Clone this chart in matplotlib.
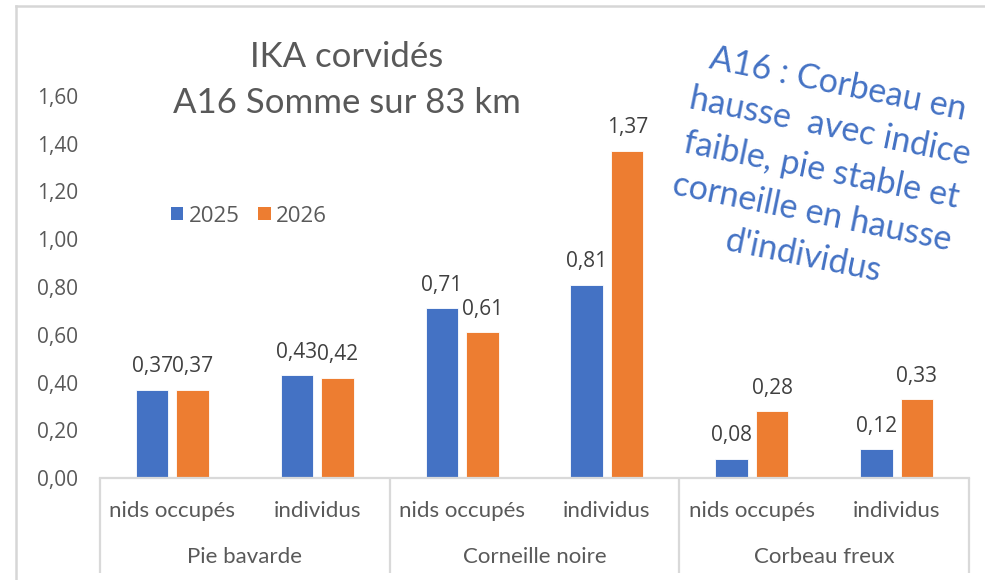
import matplotlib
matplotlib.use("Agg")
import matplotlib.pyplot as plt
import matplotlib.transforms as mtransforms
from matplotlib.lines import Line2D
from matplotlib.patches import Patch

# ---- data ----
groups = ["Pie bavarde", "Corneille noire", "Corbeau freux"]
subcats = ["nids occupés", "individus"]
series_names = ["2025", "2026"]
values_2025 = [0.37, 0.43, 0.71, 0.81, 0.08, 0.12]
values_2026 = [0.37, 0.42, 0.61, 1.37, 0.28, 0.33]
yticks = [0.0, 0.2, 0.4, 0.6, 0.8, 1.0, 1.2, 1.4, 1.6]
title_lines = ["IKA corvidés", "A16 Somme sur 83 km"]
note = "A16 : Corbeau en\nhausse  avec indice\nfaible, pie stable et\ncorneille en hausse\nd'individus"

BLUE = "#4472C4"
ORANGE = "#ED7D31"
GRAY = "#595959"
LINE = "#D9D9D9"

W, H = 985, 580
fig = plt.figure(figsize=(W / 100, H / 100), dpi=100)

def fx(x):
    return x / W

def fy(y):
    return 1 - y / H

ax_left, ax_right, ax_top, ax_bottom = 100, 969, 96, 478
ax = fig.add_axes([fx(ax_left), fy(ax_bottom), (ax_right - ax_left) / W, (ax_bottom - ax_top) / H])

n = len(values_2025)
xs = list(range(n))
bw = 0.224
off = 0.14
b1 = ax.bar([x - off for x in xs], values_2025, width=bw, color=BLUE, edgecolor="white", linewidth=0.6, label=series_names[0])
b2 = ax.bar([x + off for x in xs], values_2026, width=bw, color=ORANGE, edgecolor="white", linewidth=0.6, label=series_names[1])

ax.set_xlim(-0.5, n - 0.5)
ax.set_ylim(0, 1.6)
ax.set_yticks(yticks)
ax.set_yticklabels([f"{v:.2f}".replace(".", ",") for v in yticks], fontfamily="Open Sans", fontsize=15, color=GRAY)
ax.tick_params(axis="y", length=0, pad=15.8)
ax.set_xticks([])
for s in ["top", "right", "left"]:
    ax.spines[s].set_visible(False)
ax.spines["bottom"].set_color(LINE)
ax.spines["bottom"].set_linewidth(1.6)

# data labels
for bars, vals in ((b1, values_2025), (b2, values_2026)):
    for rect, v in zip(bars, vals):
        ax.annotate(f"{v:.2f}".replace(".", ","), (rect.get_x() + rect.get_width() / 2, v),
                    xytext=(0, 9.0), textcoords="offset points", ha="center", va="bottom",
                    fontfamily="Open Sans", fontsize=15, color="#404040")

# multi-level category axis
trans = mtransforms.blended_transform_factory(ax.transData, ax.transAxes)
axh = ax_bottom - ax_top
sub_y = -(511 - ax_bottom) / axh
grp_y = -(557 - ax_bottom) / axh
sep_bottom = -(573 - ax_bottom) / axh
for i in range(n):
    ax.text(xs[i], sub_y, subcats[i % len(subcats)], transform=trans, ha="center", va="center",
            fontfamily="Lato", fontsize=16, color=GRAY, clip_on=False)
for g, name in enumerate(groups):
    ax.text(g * 2 + 0.5, grp_y, name, transform=trans, ha="center", va="center",
            fontfamily="Lato", fontsize=16, color=GRAY, clip_on=False)
for xsep in [-0.5, 1.5, 3.5, 5.5]:
    ax.plot([xsep, xsep], [0, sep_bottom], transform=trans, color=LINE, linewidth=1.6, clip_on=False,
            solid_capstyle="butt")

# legend
handles = [Patch(facecolor=BLUE, label=series_names[0]), Patch(facecolor=ORANGE, label=series_names[1])]
fig.legend(handles=handles, loc="center", bbox_to_anchor=(fx(249), fy(216)), ncol=2, frameon=False,
           prop={"family": "Open Sans", "size": 16}, handlelength=0.55, handleheight=0.55,
           handletextpad=0.25, columnspacing=0.85, labelcolor=GRAY)

# title
fig.text(fx(347), fy(57), title_lines[0], ha="center", va="center", fontfamily="Lato", fontsize=25, color=GRAY)
fig.text(fx(347), fy(103), title_lines[1], ha="center", va="center", fontfamily="Lato", fontsize=25, color=GRAY)

# rotated note
fig.text(fx(821), fy(170), note, ha="center", va="center", multialignment="center", rotation=-11.5,
         rotation_mode="anchor", fontfamily="Lato", fontsize=24.5, color=BLUE, linespacing=1.45)

# outer frame (left and top)
fig.add_artist(Line2D([fx(16), fx(16)], [fy(6), 0], transform=fig.transFigure, color="#D6D6D6", linewidth=1.8))
fig.add_artist(Line2D([fx(16), 1], [fy(6), fy(6)], transform=fig.transFigure, color="#D6D6D6", linewidth=1.8))

fig.savefig("out.png", dpi=100)
